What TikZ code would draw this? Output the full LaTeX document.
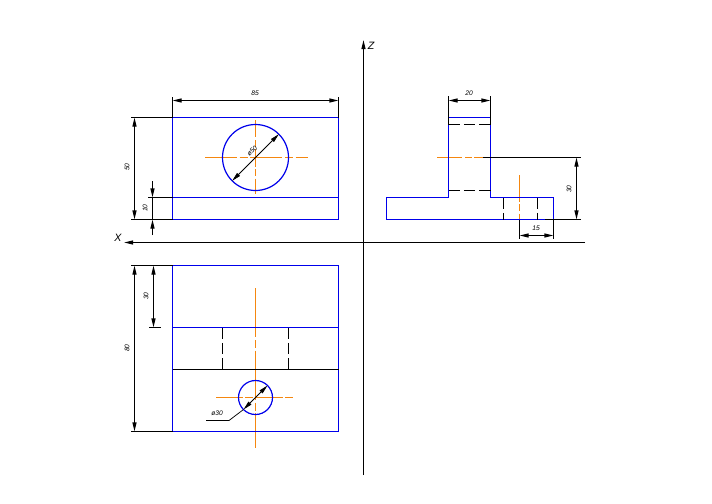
\documentclass[tikz,border=0pt]{standalone}
\usepackage{fontspec}
\setmainfont{Liberation Sans}
\usetikzlibrary{arrows.meta}
\definecolor{cblue}{RGB}{0,0,235}
\definecolor{corange}{RGB}{245,135,15}
\tikzset{
  tip/.tip={Triangle[length=6.8pt,width=3pt]},
  edge/.style={cblue,line width=0.9pt},
  blk/.style={black,line width=0.85pt},
  hid/.style={black,line width=0.85pt,dash pattern=on 8.5pt off 3pt},
  ctr/.style={corange,line width=0.85pt,dash pattern=on 24pt off 2pt on 6pt off 2pt},
  dimline/.style={black,line width=0.85pt,arrows={tip-tip}},
  arrowend/.style={black,line width=0.85pt,arrows={-tip}},
  dimtext/.style={font=\fontsize{5}{5}\selectfont\itshape,inner sep=0pt},
  axtext/.style={font=\fontsize{8}{8}\selectfont\itshape,inner sep=0pt}
}
\begin{document}
\begin{tikzpicture}[x=0.75pt,y=-0.75pt]
\useasboundingbox[fill=white] (0,0) rectangle (712,503);
% axes
\draw[arrowend] (585,242.5) -- (124,242.5);
\draw[arrowend] (363.5,475) -- (363.5,40);
\node[axtext] (xlab) at (118,237.5) {X};
\node[axtext] (zlab) at (371,45.5) {Z};
% front view
\draw[ctr] (205,157.5) -- (308,157.5);
\draw[ctr,dash pattern=on 13pt off 2pt on 5pt off 2pt] (255.5,120) -- (255.5,194);
\draw[edge] (172.5,117.5) rectangle (338.5,219.5);
\draw[edge] (172.5,197.5) -- (338.5,197.5);
\draw[edge] (255.5,157.5) circle[radius=33];
\draw[blk] (131,117.5) -- (172.5,117.5);
\draw[blk] (131,219.5) -- (172.5,219.5);
\draw[blk] (148,197.5) -- (172.5,197.5);
\draw[blk] (172.5,97) -- (172.5,117.5);
\draw[blk] (338.5,97) -- (338.5,117.5);
\draw[dimline] (172.5,100.5) -- (338.5,100.5);
\node[dimtext] (d85) at (255,93) {85};
\draw[dimline] (134.5,117.5) -- (134.5,219.5);
\node[dimtext,rotate=90] (d50) at (127,167) {50};
\draw[arrowend] (152.5,181) -- (152.5,197.5);
\draw[arrowend] (152.5,235) -- (152.5,219.5);
\draw[blk] (152.5,197.5) -- (152.5,219.5);
\node[dimtext,rotate=90] (d10) at (145,208) {10};
\draw[dimline,line width=0.55pt] (232.1,180.9) -- (278.9,134.1);
\node[dimtext,rotate=45] (dd50) at (252,151) {ø50};
% side view
\draw[ctr,dash pattern=on 19pt off 2pt on 5pt off 2pt] (437,157.5) -- (483,157.5);
\draw[ctr,dash pattern=on 20pt off 2pt on 5pt off 2pt] (519.5,175) -- (519.5,219.5);
\draw[edge] (448.5,124.5) -- (448.5,197.5) -- (386.5,197.5) -- (386.5,219.5) -- (553.5,219.5) -- (553.5,197.5) -- (490.5,197.5) -- (490.5,124.5);
\draw[edge] (448.5,117.5) -- (490.5,117.5);
\draw[blk] (448.5,96) -- (448.5,124.5);
\draw[blk] (490.5,96) -- (490.5,124.5);
\draw[hid] (448.5,124.5) -- (490.5,124.5);
\draw[hid] (448.5,190.5) -- (490.5,190.5);
\draw[hid] (503.5,197.5) -- (503.5,219.5);
\draw[hid] (537.5,197.5) -- (537.5,219.5);
\draw[blk] (483,157.5) -- (581,157.5);
\draw[blk] (545,219.5) -- (581,219.5);
\draw[blk] (519.5,219.5) -- (519.5,239);
\draw[blk] (553.5,219.5) -- (553.5,239);
\draw[dimline] (448.5,100.5) -- (490.5,100.5);
\node[dimtext] (d20) at (469,93.5) {20};
\draw[dimline] (576.5,157.5) -- (576.5,219.5);
\node[dimtext,rotate=90] (d30a) at (569,189) {30};
\draw[dimline] (519.5,235.5) -- (553.5,235.5);
\node[dimtext] (d15) at (536,228) {15};
% top view
\draw[ctr,dash pattern=on 37pt off 2pt on 6pt off 2pt] (255.5,288) -- (255.5,448);
\draw[ctr,dash pattern=on 20pt off 2pt on 6pt off 2pt] (216,397.5) -- (295,397.5);
\draw[edge] (172.5,265.5) rectangle (338.5,431.5);
\draw[edge] (172.5,327.5) -- (338.5,327.5);
\draw[blk] (172.5,369.5) -- (338.5,369.5);
\draw[hid] (222.5,327.5) -- (222.5,369.5);
\draw[hid] (288.5,327.5) -- (288.5,369.5);
\draw[edge] (255.5,397.5) circle[radius=17];
\draw[blk] (131,265.5) -- (172.5,265.5);
\draw[blk] (131,431.5) -- (172.5,431.5);
\draw[blk] (149,327.5) -- (161,327.5);
\draw[dimline] (134.5,265.5) -- (134.5,431.5);
\node[dimtext,rotate=90] (d80) at (127,348) {80};
\draw[dimline] (153.5,265.5) -- (153.5,327.5);
\node[dimtext,rotate=90] (d30b) at (146,296) {30};
\draw[black,line width=0.55pt] (243.5,409.5) -- (229,420.5);
\draw[blk] (229,420.5) -- (206,420.5);
\draw[black,line width=0.55pt,arrows={tip-tip}] (243.5,409.5) -- (267.5,385.5);
\node[dimtext] (dd30) at (217,413) {ø30};
\end{tikzpicture}
\end{document}
